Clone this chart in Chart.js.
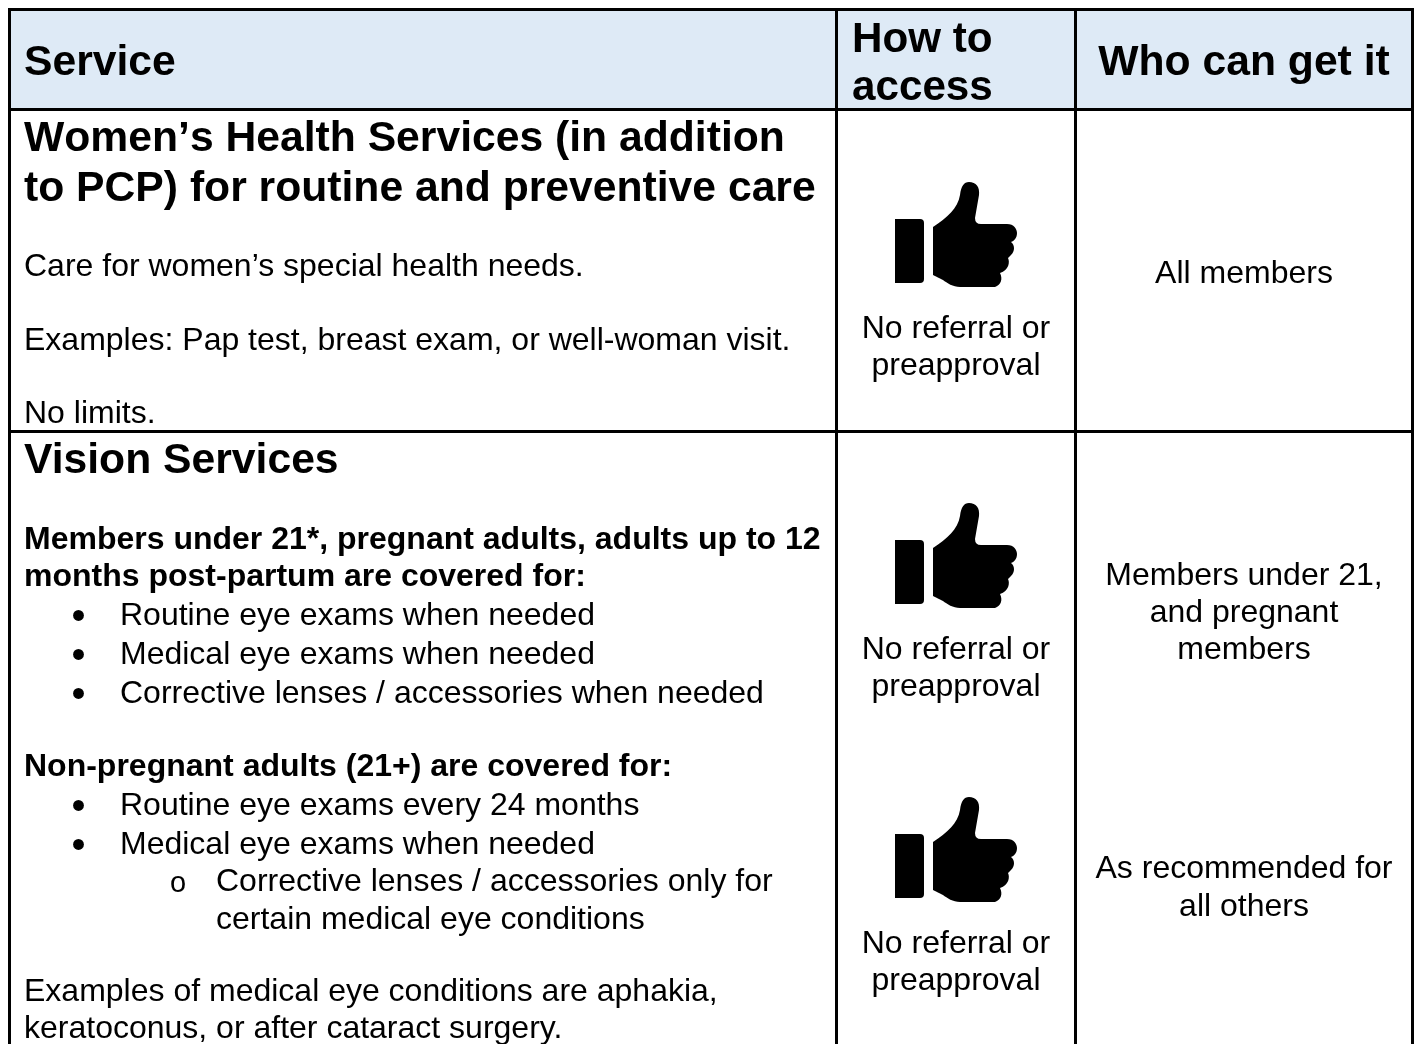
<!DOCTYPE html>
<html>
<head>
<meta charset="utf-8">
<title>Service table</title>
<script src="https://cdn.jsdelivr.net/npm/chart.js@4/dist/chart.umd.js"></script>
<style>
html,body{margin:0;padding:0;background:#fff;overflow:hidden}
#wrap{position:absolute;left:0;top:0;width:1416px;height:1044px}
canvas{display:block}
</style>
</head>
<body>
<div id="wrap"><canvas id="c" width="1416" height="1044"></canvas></div>
<script>
// ---- table content ----
const headerLabels = ["Service", "How to", "access", "Who can get it"];
const sectionTitles = ["Women\u2019s Health Services (in addition", "to PCP) for routine and preventive care", "Vision Services"];
const womenLines = ["Care for women\u2019s special health needs.", "Examples: Pap test, breast exam, or well-woman visit.", "No limits."];
const visionHeadings = ["Members under 21*, pregnant adults, adults up to 12", "months post-partum are covered for:", "Non-pregnant adults (21+) are covered for:"];
const visionBullets = ["Routine eye exams when needed", "Medical eye exams when needed", "Corrective lenses / accessories when needed", "Routine eye exams every 24 months", "Medical eye exams when needed"];
const visionSubBullets = ["Corrective lenses / accessories only for", "certain medical eye conditions"];
const visionNotes = ["Examples of medical eye conditions are aphakia,", "keratoconus, or after cataract surgery."];
const accessLines = ["No referral or", "preapproval"];
const whoLines = ["All members", "Members under 21,", "and pregnant", "members", "As recommended for", "all others"];

// ---- layout (table geometry on the chart's scales) ----
const columnEdges = [9.5, 836.5, 1075.5, 1412.5];
const rowEdges = [9.5, 109.5, 431.5, 1044];
const leftText = 24, bulletDot = 78.5, bulletText = 120, subDot = 178, subText = 216, howLeft = 852;
const accessCentre = 956, whoCentre = 1244;
const headerY = [75, 52, 100, 75];
const titleY = [151, 201, 473];
const womenY = [276, 350, 423];
const headingY = [549, 586, 776];
const bulletY = [625, 664, 703, 815, 854];
const subY = [891, 929];
const noteY = [1001, 1038];
const accessY = [[338, 375], [659, 696], [953, 990]];
const whoY = [283, 585, 622, 659, 878, 916];
const thumbY = [234.5, 555.5, 849.5];

const FONT = '"Liberation Sans", Arial, sans-serif';
const bodyFont = '32px ' + FONT, boldBody = 'bold 32px ' + FONT;
const headFont = 'bold 42.67px ' + FONT, howFont = 'bold 42.2px ' + FONT;
const dotFont = '40px ' + FONT, ringFont = '29px ' + FONT;

function thumbCanvas() {
  const c = document.createElement('canvas');
  c.width = 122; c.height = 105;
  const g = c.getContext('2d');
  g.fillStyle = '#000';
  g.beginPath();
  g.roundRect(0, 37, 29, 64, [0, 4, 4, 0]);
  g.fill();
  const p = new Path2D(
    'M38 45 C52 36 63 26 65 13 C66 4 69 0 74 0 C81 0 85 5 84 13 L80 36 Q80 42 86 42 ' +
    'L112 42 C119 42 122 47 122 51 C122 56 119 59 116 60 C120 63 120 69 116 73 L113 76 ' +
    'C115 80 114 88 105 91 C108 97 106 103 100 105 L65 105 C58 105 52 101 48 98 L38 93 Z');
  g.fill(p);
  return c;
}

const tablePlugin = {
  id: 'tablePlugin',
  beforeDatasetsDraw(chart) {
    const ctx = chart.ctx, x = chart.scales.x, y = chart.scales.y;
    ctx.save();
    ctx.fillStyle = '#deeaf6';
    ctx.fillRect(x.getPixelForValue(columnEdges[0]), y.getPixelForValue(rowEdges[0]),
      x.getPixelForValue(columnEdges[3]) - x.getPixelForValue(columnEdges[0]),
      y.getPixelForValue(rowEdges[1]) - y.getPixelForValue(rowEdges[0]));
    ctx.restore();
  },
  afterDatasetsDraw(chart) {
    const ctx = chart.ctx, x = chart.scales.x, y = chart.scales.y;
    const put = (s, px, py, font, align) => {
      ctx.font = font;
      ctx.textAlign = align || 'left';
      ctx.fillText(s, x.getPixelForValue(px), y.getPixelForValue(py));
    };
    ctx.save();
    ctx.fillStyle = '#000';
    ctx.textBaseline = 'alphabetic';
    put(headerLabels[0], leftText, headerY[0], headFont);
    put(headerLabels[1], howLeft, headerY[1], howFont);
    put(headerLabels[2], howLeft, headerY[2], howFont);
    put(headerLabels[3], whoCentre, headerY[3], headFont, 'center');
    sectionTitles.forEach((s, i) => {
      ctx.fontKerning = i === 0 ? 'none' : 'auto';
      put(s, leftText, titleY[i], headFont);
    });
    ctx.fontKerning = 'auto';
    womenLines.forEach((s, i) => put(s, leftText, womenY[i], bodyFont));
    visionHeadings.forEach((s, i) => put(s, leftText, headingY[i], boldBody));
    visionBullets.forEach((s, i) => {
      put('\u2022', bulletDot, bulletY[i] + 4, dotFont, 'center');
      put(s, bulletText, bulletY[i], bodyFont);
    });
    visionSubBullets.forEach((s, i) => {
      if (i === 0) put('o', subDot, subY[i] + 1, ringFont, 'center');
      put(s, subText, subY[i], bodyFont);
    });
    visionNotes.forEach((s, i) => put(s, leftText, noteY[i], bodyFont));
    accessY.forEach(pair => pair.forEach((py, i) => put(accessLines[i], accessCentre, py, bodyFont, 'center')));
    whoLines.forEach((s, i) => put(s, whoCentre, whoY[i], bodyFont, 'center'));
    ctx.restore();
  }
};

const rule = pts => ({
  type: 'scatter', data: pts, showLine: true, borderColor: '#000', borderWidth: 3,
  pointRadius: 0, pointHoverRadius: 0, borderCapStyle: 'square', tension: 0, clip: false
});
const tableTop = rowEdges[0], tableBottom = rowEdges[3];
const datasets = [];
columnEdges.forEach(cx => datasets.push(rule([{x: cx, y: tableTop}, {x: cx, y: tableBottom + 5}])));
rowEdges.slice(0, 3).forEach(ry => datasets.push(rule([{x: columnEdges[0], y: ry}, {x: columnEdges[3], y: ry}])));
datasets.push({
  type: 'scatter',
  data: thumbY.map(ty => ({x: accessCentre, y: ty})),
  pointStyle: thumbCanvas(),
  showLine: false,
  pointRadius: 10, pointHoverRadius: 10
});

new Chart(document.getElementById('c'), {
  type: 'scatter',
  data: {datasets},
  options: {
    responsive: false,
    animation: false,
    devicePixelRatio: 1,
    layout: {padding: 0, autoPadding: false},
    events: [],
    plugins: {legend: {display: false}, title: {display: false}, tooltip: {enabled: false}},
    scales: {
      x: {type: 'linear', min: 0, max: 1416, display: false},
      y: {type: 'linear', min: 0, max: 1044, reverse: true, display: false}
    }
  },
  plugins: [tablePlugin]
});
</script>
</body>
</html>
